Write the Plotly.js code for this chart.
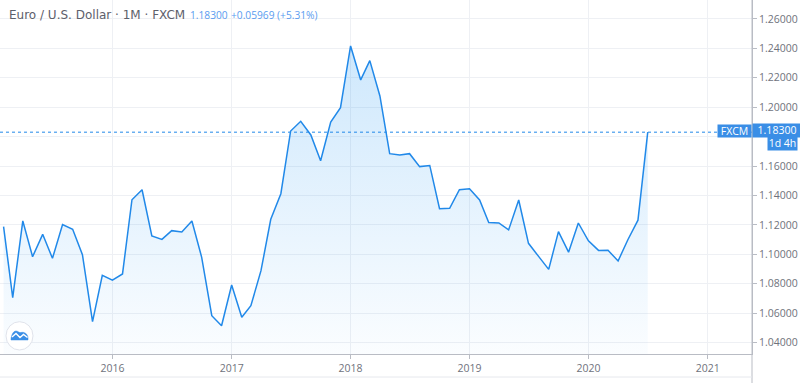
<!DOCTYPE html>
<html>
<head>
<meta charset="utf-8">
<script src="https://cdn.plot.ly/plotly-3.0.1.min.js"></script>
<style>
  html, body { margin: 0; padding: 0; background: #ffffff; }
  #chart { width: 800px; height: 383px; }
</style>
</head>
<body>
<div id="chart"></div>
<script>
// Monthly closes, EUR/USD (FXCM)
const months = [
  '2015-02-01','2015-03-01','2015-04-01','2015-05-01','2015-06-01','2015-07-01','2015-08-01','2015-09-01','2015-10-01','2015-11-01','2015-12-01',
  '2016-01-01','2016-02-01','2016-03-01','2016-04-01','2016-05-01','2016-06-01','2016-07-01','2016-08-01','2016-09-01','2016-10-01','2016-11-01','2016-12-01',
  '2017-01-01','2017-02-01','2017-03-01','2017-04-01','2017-05-01','2017-06-01','2017-07-01','2017-08-01','2017-09-01','2017-10-01','2017-11-01','2017-12-01',
  '2018-01-01','2018-02-01','2018-03-01','2018-04-01','2018-05-01','2018-06-01','2018-07-01','2018-08-01','2018-09-01','2018-10-01','2018-11-01','2018-12-01',
  '2019-01-01','2019-02-01','2019-03-01','2019-04-01','2019-05-01','2019-06-01','2019-07-01','2019-08-01','2019-09-01','2019-10-01','2019-11-01','2019-12-01',
  '2020-01-01','2020-02-01','2020-03-01','2020-04-01','2020-05-01','2020-06-01','2020-07-01'
];
const closes = [
  1.1188,1.0706,1.1227,1.0984,1.1136,1.0973,1.1202,1.1170,1.0998,1.0543,1.0858,
  1.0824,1.0867,1.1371,1.1439,1.1125,1.1102,1.1161,1.1152,1.1227,1.0980,1.0583,1.0515,
  1.0792,1.0573,1.0651,1.0889,1.1238,1.1412,1.1838,1.1904,1.1811,1.1636,1.1899,1.1997,
  1.2416,1.2185,1.2316,1.2076,1.1684,1.1675,1.1684,1.1596,1.1604,1.1310,1.1313,1.1439,
  1.1445,1.1370,1.1217,1.1213,1.1166,1.1369,1.1075,1.0986,1.0898,1.1154,1.1015,1.1213,
  1.1092,1.1027,1.1028,1.0955,1.1099,1.1232,1.1830
];
const lastPrice = 1.18300;
const titleText = 'Euro / U.S. Dollar · 1M · FXCM';
const quotePrice = '1.18300';
const quoteChange = '+0.05969 (+5.31%)';
const symbolLabel = 'FXCM';
const priceLabel = '1.18300';
const countdownLabel = '1d 4h';
const yTicks = [1.04,1.06,1.08,1.10,1.12,1.14,1.16,1.18,1.20,1.22,1.24,1.26];
// 1.18000 is hidden behind the last-price label in the reference
const yTickText = ['1.04000','1.06000','1.08000','1.10000','1.12000','1.14000','1.16000','','1.20000','1.22000','1.24000','1.26000'];

const BLUE = '#2189e9';
const LABEL_BLUE = '#3a8ee6';
const GRID = '#eef0f4';
const AXIS = '#b9bcc4';
const TXT = '#6f727c';
const FONT = 'Open Sans';

const trace = {
  x: months,
  y: closes,
  type: 'scatter',
  mode: 'lines',
  line: { color: BLUE, width: 1.5 },
  fill: 'tozeroy',
  fillgradient: {
    type: 'vertical',
    start: 1.0323,
    stop: 1.2416,
    colorscale: [[0, 'rgba(33,150,243,0.02)'], [1, 'rgba(33,150,243,0.22)']]
  },
  hoverinfo: 'skip'
};

const layout = {
  width: 800,
  height: 383,
  margin: { l: 0, r: 48, t: 0, b: 29, pad: 0 },
  paper_bgcolor: '#ffffff',
  plot_bgcolor: '#ffffff',
  showlegend: false,
  font: { family: FONT, color: TXT, size: 10 },
  xaxis: {
    type: 'date',
    range: ['2015-01-21', '2021-05-17'],
    tick0: '2016-01-01',
    dtick: 'M12',
    tickformat: '%Y',
    showgrid: true,
    gridcolor: GRID,
    gridwidth: 1,
    showline: true,
    linecolor: AXIS,
    linewidth: 1,
    ticks: 'outside',
    ticklen: 4,
    tickcolor: AXIS,
    tickfont: { family: FONT, size: 10.5, color: TXT },
    zeroline: false,
    fixedrange: true
  },
  yaxis: {
    side: 'right',
    range: [1.0323, 1.2728],
    tickvals: yTicks,
    ticktext: yTickText,
    showgrid: true,
    gridcolor: GRID,
    gridwidth: 1,
    showline: true,
    linecolor: AXIS,
    linewidth: 1,
    ticks: 'outside',
    ticklen: 4,
    tickcolor: AXIS,
    tickfont: { family: FONT, size: 10.5, color: TXT },
    zeroline: false,
    fixedrange: true
  },
  shapes: [
    { type: 'line', xref: 'paper', x0: 0, x1: 1, yref: 'y', y0: lastPrice, y1: lastPrice,
      line: { color: BLUE, width: 1, dash: 'dot' }, layer: 'above' },
    { type: 'line', xref: 'paper', x0: 1, x1: 1, yref: 'paper', y0: -0.09, y1: 1,
      line: { color: AXIS, width: 1 } },
    { type: 'line', xref: 'paper', x0: 0, x1: 1, yref: 'paper', y0: -0.065, y1: -0.065,
      line: { color: '#e6e8ed', width: 1 } },
    { type: 'circle', xref: 'paper', yref: 'paper', xsizemode: 'pixel', ysizemode: 'pixel',
      xanchor: 0, yanchor: 0, x0: 6, x1: 33, y0: 4, y1: 32.3,
      line: { color: '#e0e3eb', width: 1 }, fillcolor: '#ffffff', layer: 'above' },
    { type: 'path', xref: 'paper', yref: 'paper', xsizemode: 'pixel', ysizemode: 'pixel',
      xanchor: 0, yanchor: 0,
      path: 'M 11 14 C 11 18 13 23 16 23 C 18 23 19 21 21 21.5 C 24 22.5 28 20 28 16 L 28 14 Z',
      line: { color: '#3a8ee6', width: 0.5 }, fillcolor: '#3a8ee6', layer: 'above' },
    { type: 'path', xref: 'paper', yref: 'paper', xsizemode: 'pixel', ysizemode: 'pixel',
      xanchor: 0, yanchor: 0,
      path: 'M 12 17 L 16 20.5 L 20 16.5 L 23.5 19.5 L 27.5 16.5',
      line: { color: '#ffffff', width: 1.4 }, layer: 'above' }
  ],
  annotations: [
    { xref: 'paper', yref: 'paper', x: 7 / 752, y: 1 - 15.5 / 354, xanchor: 'left', yanchor: 'middle',
      text: titleText, showarrow: false, font: { family: 'DejaVu Sans', size: 12, color: '#5d606b' } },
    { xref: 'paper', yref: 'paper', x: 188 / 752, y: 1 - 15.5 / 354, xanchor: 'left', yanchor: 'middle',
      text: quotePrice, showarrow: false, font: { family: FONT, size: 10.2, color: '#5a9cf0' } },
    { xref: 'paper', yref: 'paper', x: 229 / 752, y: 1 - 15.5 / 354, xanchor: 'left', yanchor: 'middle',
      text: quoteChange, showarrow: false, font: { family: FONT, size: 10.2, color: '#5a9cf0' } },
    { xref: 'paper', yref: 'paper', x: 1, y: 1 - 130.5 / 354, xanchor: 'right', yanchor: 'middle',
      text: symbolLabel, showarrow: false, bgcolor: LABEL_BLUE, width: 33, height: 12, borderpad: 0,
      font: { family: FONT, size: 10.5, color: '#ffffff' } },
    { xref: 'paper', yref: 'paper', x: 1, y: 1 - 130.5 / 354, xanchor: 'left', yanchor: 'middle',
      text: priceLabel, showarrow: false, bgcolor: LABEL_BLUE, width: 48, height: 12.5, borderpad: 0,
      font: { family: FONT, size: 10.5, color: '#ffffff' } },
    { xref: 'paper', yref: 'paper', x: 766.7 / 752, y: 1 - 143.5 / 354, xanchor: 'left', yanchor: 'middle',
      text: countdownLabel, showarrow: false, bgcolor: LABEL_BLUE, width: 29, height: 12.5, borderpad: 0,
      font: { family: FONT, size: 10.5, color: '#ffffff' } }
  ]
};

Plotly.newPlot('chart', [trace], layout, { displayModeBar: false, staticPlot: true });
</script>
</body>
</html>
